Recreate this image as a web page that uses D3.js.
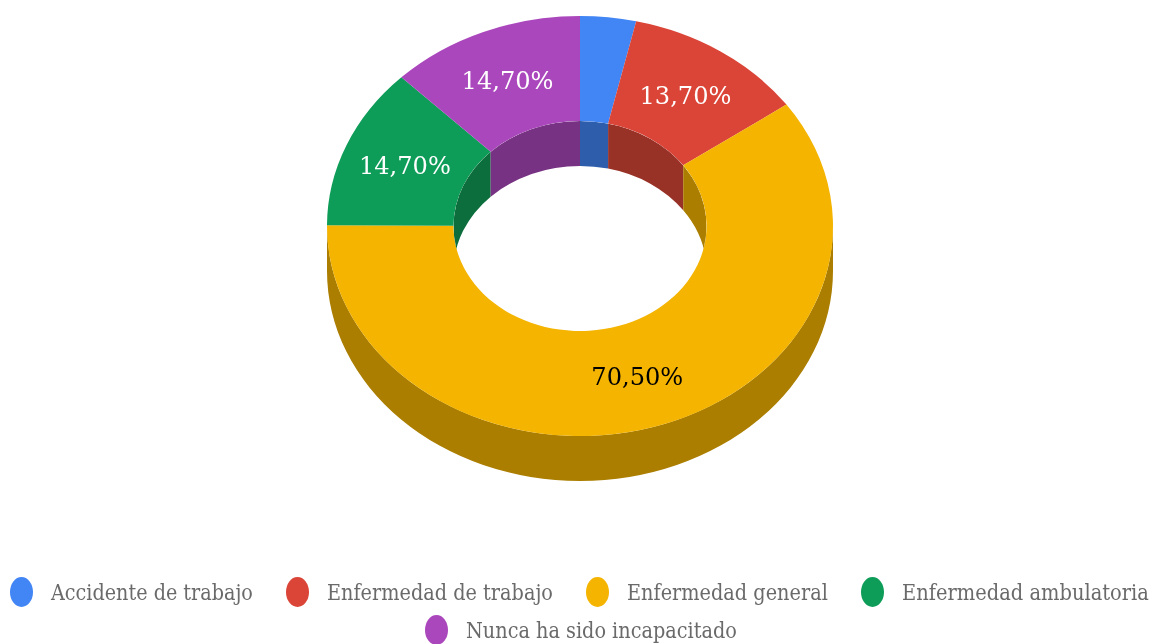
<!DOCTYPE html>
<html><head><meta charset="utf-8">
<script src="https://cdn.jsdelivr.net/npm/d3@7"></script>
<style>html,body{margin:0;padding:0;background:#fff;overflow:hidden}svg{display:block}</style>
</head><body><svg id="c" width="1154" height="644"></svg>
<script>
const categories = ["Accidente de trabajo","Enfermedad de trabajo","Enfermedad general","Enfermedad ambulatoria","Nunca ha sido incapacitado"];
const values = [4.2,13.7,70.5,14.7,14.7];
const colors = ["#4285f4","#db4437","#f4b400","#0f9d58","#ab47bc"];
const legendRows = [[0,1,2,3],[4]];
const legendTextWidths = [202,226,201,247,271];

const cx=580,cy=226,rx=253,ry=210,depth=45,hole=0.5,minLabel=5;
const svg=d3.select("#c");
const defs=svg.append("defs");
defs.append("filter").attr("id","soft").attr("x","-5%").attr("y","-5%").attr("width","110%").attr("height","110%")
  .append("feGaussianBlur").attr("stdDeviation",0.55);
defs.append("filter").attr("id","softT").attr("x","-5%").attr("y","-20%").attr("width","110%").attr("height","140%")
  .append("feGaussianBlur").attr("stdDeviation",0.6);
defs.append("clipPath").attr("id","holeClip").append("ellipse")
  .attr("cx",cx).attr("cy",cy).attr("rx",rx*hole).attr("ry",ry*hole);

const shade=c=>{const r=d3.rgb(c);return d3.rgb(r.r*0.7,r.g*0.7,r.b*0.7).formatHex();};
const arcs=d3.pie().sort(null).value(d=>d)(values);
const arcGen=d3.arc().innerRadius(hole).outerRadius(1);
const pt=(a,k,dy)=>[cx+rx*k*Math.sin(a),cy+dy-ry*k*Math.cos(a)];
const root=svg.append("g").attr("filter","url(#soft)");

const sideArc=(a0,a1,k)=>{
  const p0=pt(a0,k,0),p1=pt(a1,k,0),q1=pt(a1,k,depth),q0=pt(a0,k,depth);
  const R=`${rx*k} ${ry*k}`,lg=Math.abs(a1-a0)>Math.PI?1:0;
  return `M${p0}A${R} 0 ${lg} 1 ${p1}L${q1}A${R} 0 ${lg} 0 ${q0}Z`;
};
const PI=Math.PI;
root.append("g").selectAll("path").data(arcs.filter(d=>d.endAngle>PI/2&&d.startAngle<1.5*PI)).join("path")
  .attr("d",d=>sideArc(Math.max(d.startAngle,PI/2),Math.min(d.endAngle,1.5*PI),1))
  .attr("fill",d=>shade(colors[d.index]));

root.append("g").attr("transform",`translate(${cx},${cy}) scale(${rx},${ry})`)
  .selectAll("path").data(arcs).join("path").attr("d",arcGen).attr("fill",d=>colors[d.index]);

const inner=root.append("g").attr("clip-path","url(#holeClip)");
const visible=[];
arcs.forEach(d=>{
  if(d.startAngle<PI/2) visible.push({i:d.index,a0:d.startAngle,a1:Math.min(d.endAngle,PI/2)});
  if(d.endAngle>1.5*PI) visible.push({i:d.index,a0:Math.max(d.startAngle,1.5*PI),a1:d.endAngle});
});
inner.selectAll("path").data(visible).join("path")
  .attr("d",d=>sideArc(d.a0,d.a1,hole)).attr("fill",d=>shade(colors[d.i]));

// fit a text to a target width by scaling it horizontally about its own origin
const fit=(sel,x,y,w)=>{
  const n=sel.node().getComputedTextLength();
  sel.attr("transform",`translate(${x},${y}) scale(${w/n},1)`);
};

const labelFmt=v=>v.toFixed(2).replace(".",",")+"%";
const labelArc=d3.arc().innerRadius(0.5).outerRadius(1);
const labelLayer=svg.append("g").attr("filter","url(#softT)");
arcs.filter(d=>d.value>=minLabel).forEach(d=>{
  const c=labelArc.centroid(d);
  const t=labelLayer.append("text").attr("text-anchor","middle")
    .attr("font-family","'DejaVu Serif',serif").attr("font-size",25)
    .attr("fill",d.index===2?"#000":"#fff").text(labelFmt(d.value));
  fit(t,cx+rx*c[0],cy+ry*c[1]+9,92);
});

const legendStart=[10,425],legendY=[592,630],markerRx=11.5,markerRy=15,markerGap=41,itemGap=33;
const lg=svg.append("g").attr("filter","url(#softT)");
legendRows.forEach((row,r)=>{
  let x=legendStart[r];
  row.forEach(i=>{
    lg.append("ellipse").attr("cx",x+markerRx).attr("cy",legendY[r]).attr("rx",markerRx).attr("ry",markerRy).attr("fill",colors[i]);
    const t=lg.append("text")
      .attr("font-family","'DejaVu Serif',serif").attr("font-size",23).attr("fill","#6a6a6a")
      .text(categories[i]);
    fit(t,x+markerGap,legendY[r]+8,legendTextWidths[i]);
    x+=markerGap+legendTextWidths[i]+itemGap;
  });
});
</script></body></html>
